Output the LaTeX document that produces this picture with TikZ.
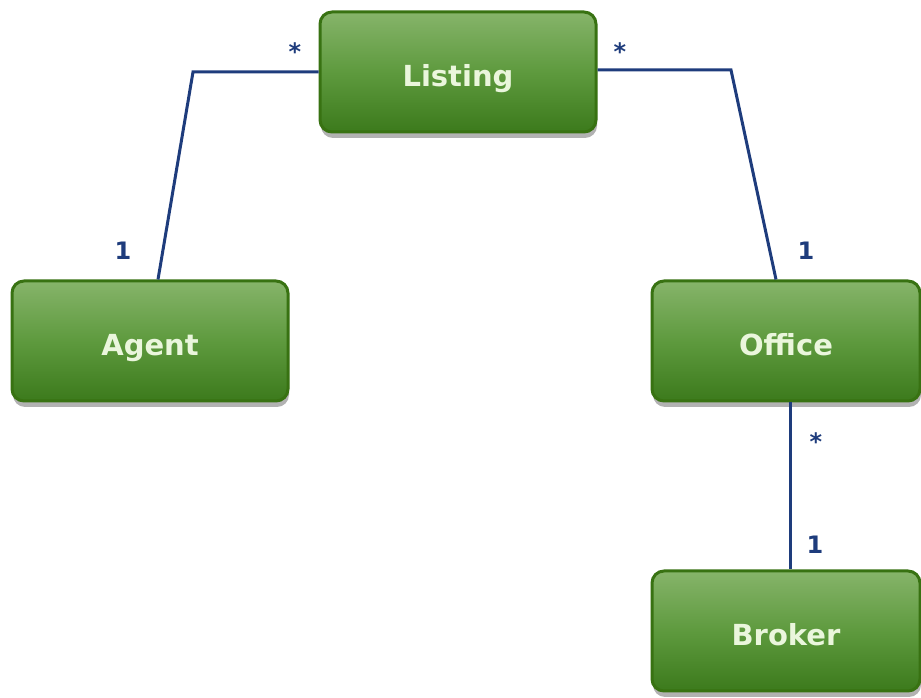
\documentclass[tikz,border=0pt]{standalone}
\usepackage{fontspec}
\setmainfont{DejaVu Sans}
\usetikzlibrary{shadows,calc}
\definecolor{boxtop}{HTML}{86B46A}
\definecolor{boxmid}{HTML}{5E9A3E}
\definecolor{boxbot}{HTML}{3C7A1C}
\definecolor{boxedge}{HTML}{387212}
\definecolor{boxtext}{HTML}{EAF6DC}
\definecolor{link}{HTML}{1E3C7C}
\tikzset{
  cls/.style={draw=boxedge, line width=3pt, rounded corners=12pt,
    top color=boxtop, bottom color=boxbot, middle color=boxmid,
    minimum width=#1, minimum height=120pt,
    inner sep=0pt, text=boxtext, font=\bfseries\fontsize{29}{34}\selectfont,
    text height=29pt, text depth=0pt,
    drop shadow={shadow xshift=1pt, shadow yshift=-6pt, opacity=0.3, fill=black}},
  cls/.default=276pt,
  assoc/.style={draw=link, line width=3pt},
  mult/.style={text=link, font=\bfseries\fontsize{24}{28}\selectfont, inner sep=0pt}
}
\begin{document}
\begin{tikzpicture}[x=1pt,y=1pt]
\useasboundingbox (0,0) rectangle (921,698);
\node[cls] (listing) at (458,626) {Listing};
\node[cls] (agent) at (150,357) {Agent};
\node[cls=268pt] (office) at (786,357) {Office};
\node[cls=268pt] (broker) at (786,67) {Broker};
\coordinate (la) at (193,626);
\coordinate (lo) at (731,628);
\draw[assoc] (listing.west) -- (la) -- ($(agent.north)+(8,0)$);
\draw[assoc] ($(listing.east)+(0,2)$) -- (lo) -- ($(office.north)+(-10,0)$);
\draw[assoc] ($(office.south)+(4,0)$) -- ($(broker.north)+(4,0)$);
\node[mult] (m1) at (295,646) {*};
\node[mult] (m2) at (620,646) {*};
\node[mult] (m3) at (123,447) {1};
\node[mult] (m4) at (806,447) {1};
\node[mult] (m5) at (816,256) {*};
\node[mult] (m6) at (815,153) {1};
\end{tikzpicture}
\end{document}
